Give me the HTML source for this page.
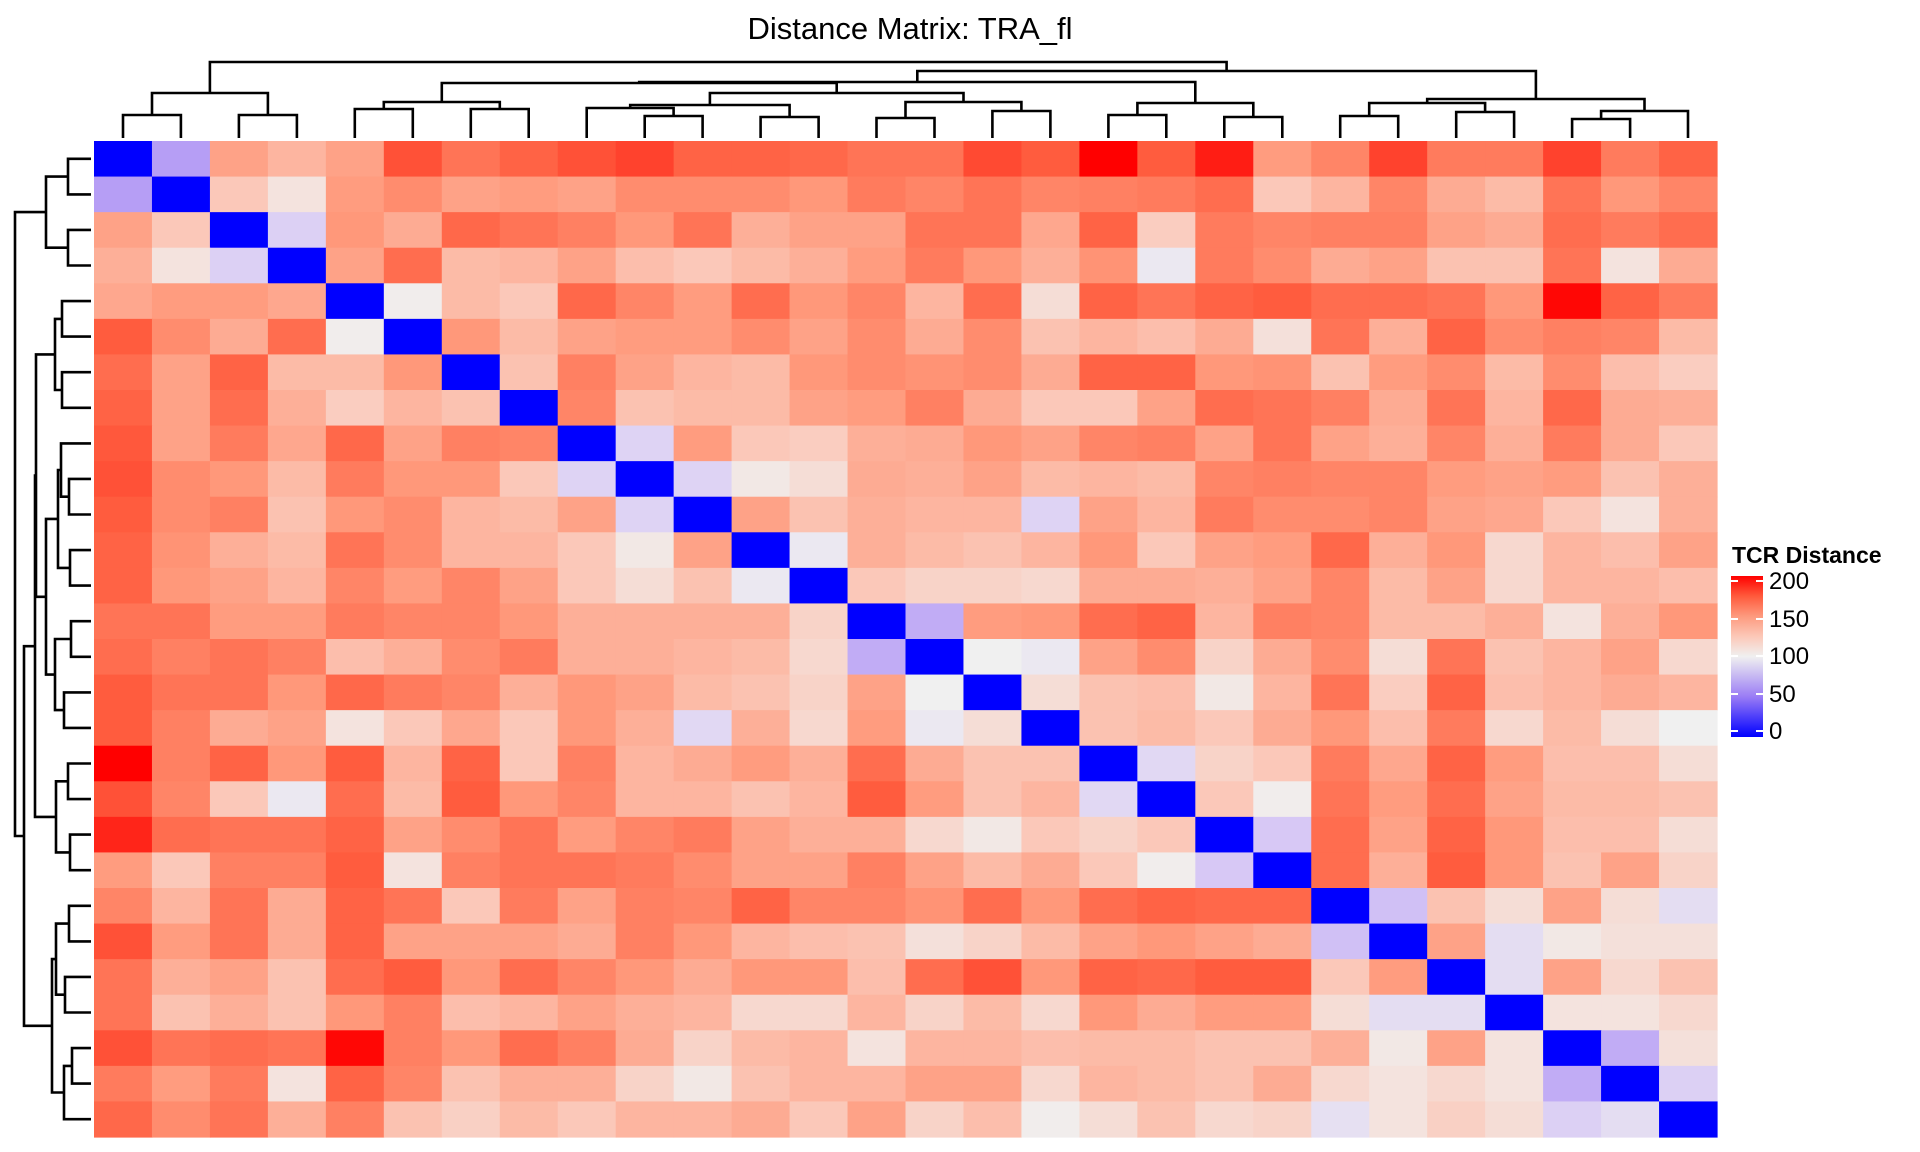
<!DOCTYPE html>
<html><head><meta charset="utf-8">
<style>
html,body{margin:0;padding:0;background:#fff;}
svg{display:block;}
text{font-family:"Liberation Sans",sans-serif;}
</style></head>
<body>
<svg id="s" width="1920" height="1152" xmlns="http://www.w3.org/2000/svg">
<text x="910" y="39" font-size="31" text-anchor="middle" fill="#000">Distance Matrix: TRA_fl</text>
<g id="cells"></g>
<g id="dend" stroke="#000" stroke-width="2.6" fill="none"></g>
<defs>
<linearGradient id="cb" x1="0" y1="1" x2="0" y2="0">
<stop offset="0" stop-color="#0000ff"/>
<stop offset="0.25" stop-color="#9a7cf5"/>
<stop offset="0.5" stop-color="#f0f0f0"/>
<stop offset="0.625" stop-color="#fcc8b8"/>
<stop offset="0.75" stop-color="#fd9a7e"/>
<stop offset="0.875" stop-color="#ff5a3c"/>
<stop offset="1" stop-color="#ff0000"/>
</linearGradient>
</defs>
<text x="1732" y="563" font-size="23" font-weight="bold" fill="#000">TCR Distance</text>
<rect x="1731" y="576" width="32" height="161" fill="url(#cb)"/>
<g stroke="#fff" stroke-width="2">
<line x1="1731" y1="581" x2="1738" y2="581"/><line x1="1756" y1="581" x2="1763" y2="581"/>
<line x1="1731" y1="619" x2="1738" y2="619"/><line x1="1756" y1="619" x2="1763" y2="619"/>
<line x1="1731" y1="656" x2="1738" y2="656"/><line x1="1756" y1="656" x2="1763" y2="656"/>
<line x1="1731" y1="694" x2="1738" y2="694"/><line x1="1756" y1="694" x2="1763" y2="694"/>
<line x1="1731" y1="731" x2="1738" y2="731"/><line x1="1756" y1="731" x2="1763" y2="731"/>
</g>
<g font-size="24" fill="#000">
<text x="1769" y="589">200</text>
<text x="1769" y="627">150</text>
<text x="1769" y="664">100</text>
<text x="1769" y="702">50</text>
<text x="1769" y="739">0</text>
</g>
</svg>
<script>
var M=[
[0,60,145,135,145,178,165,172,178,182,172,172,170,165,165,180,175,200,175,192,148,158,182,162,162,182,162,172],
[60,0,125,108,148,155,145,148,145,155,155,155,150,162,158,165,158,160,162,168,125,135,158,140,132,165,150,158],
[145,125,0,80,150,140,170,165,160,150,165,138,145,145,165,165,142,172,122,162,158,160,160,145,140,168,162,168],
[138,108,80,0,145,168,132,135,145,130,125,132,138,148,162,150,138,152,95,162,155,140,145,128,128,165,108,140],
[142,148,148,142,0,102,132,125,170,158,148,168,150,158,135,168,112,172,165,172,175,168,168,165,150,198,172,162],
[175,155,140,168,102,0,150,132,145,148,148,155,145,155,140,155,128,135,130,140,110,165,138,172,155,160,158,132],
[168,145,172,132,132,150,0,128,160,145,135,132,150,155,152,155,140,172,172,150,152,128,148,155,132,155,130,122],
[172,145,168,138,122,135,128,0,158,128,132,132,145,148,160,140,125,125,145,168,165,160,140,165,135,170,140,138],
[176,145,162,142,170,145,160,158,0,82,148,125,122,138,140,150,145,158,160,145,165,145,138,158,138,162,140,125],
[178,155,150,132,162,150,150,125,82,0,82,105,112,140,138,145,132,135,132,158,160,158,158,148,145,148,128,138],
[175,155,160,128,150,155,135,132,145,82,0,145,128,138,135,135,82,145,135,162,155,155,158,145,142,125,108,138],
[172,152,138,132,165,155,135,135,125,105,145,0,95,138,132,128,135,150,125,145,148,170,138,150,115,135,130,145],
[172,150,145,135,158,148,158,145,125,112,128,95,0,125,118,118,115,140,140,138,145,158,132,145,115,135,135,130],
[165,165,148,148,162,158,158,150,138,138,138,138,118,0,65,148,150,168,172,135,160,158,132,132,138,108,138,150],
[168,160,165,160,130,138,155,162,138,138,135,132,115,65,0,100,95,145,155,118,140,155,112,165,128,135,145,115],
[175,165,165,150,170,162,158,138,150,145,132,128,118,145,100,0,112,128,130,105,135,165,122,172,130,135,140,135],
[175,160,140,145,108,125,142,125,150,138,85,138,115,148,95,112,0,128,132,125,140,150,130,162,115,132,112,100],
[200,160,172,150,175,135,172,125,160,135,140,148,138,168,140,128,128,0,85,118,125,162,142,172,148,130,130,112],
[178,158,125,95,168,132,175,150,158,135,135,128,135,175,148,128,135,85,0,125,102,165,148,168,145,132,132,128],
[190,168,165,165,172,145,155,165,148,158,162,145,138,138,115,105,125,118,125,0,75,168,145,172,150,130,130,112],
[148,125,160,160,175,108,160,165,165,162,155,145,145,160,145,132,140,125,102,75,0,168,138,175,150,128,145,118],
[158,135,165,140,172,165,125,162,145,160,158,172,158,158,152,168,150,168,172,170,170,0,72,128,112,145,112,88],
[178,148,165,140,172,145,145,145,140,160,150,135,130,128,110,118,132,145,150,145,140,72,0,145,88,105,110,110],
[165,138,145,128,168,175,150,168,158,150,140,150,150,130,168,178,150,172,170,175,175,125,148,0,88,145,115,128],
[165,128,138,128,150,160,130,135,145,138,135,115,115,135,118,132,115,150,140,148,148,112,88,88,0,108,108,115],
[178,165,168,165,198,160,150,168,160,140,118,132,135,108,135,135,130,132,132,128,128,138,105,145,108,0,65,110],
[162,148,162,108,172,158,128,138,138,118,105,128,135,135,145,145,115,135,132,128,140,115,108,115,108,65,0,80],
[170,155,165,138,160,128,120,132,125,135,135,140,125,145,118,130,102,112,128,115,118,90,108,120,112,80,88,0]];
var stops=[[0,[0,0,255]],[25,[100,70,250]],[50,[160,130,245]],[75,[215,200,245]],[100,[240,240,240]],[125,[251,200,185]],[150,[255,152,122]],[175,[255,92,62]],[200,[255,0,0]]];
function col(v){for(var i=1;i<stops.length;i++){if(v<=stops[i][0]){var a=stops[i-1],b=stops[i],t=(v-a[0])/(b[0]-a[0]);return 'rgb('+[0,1,2].map(function(k){return Math.round(a[1][k]+(b[1][k]-a[1][k])*t)}).join(',')+')';}}return 'rgb(255,0,0)';}
var X0=94,Y0=141,CW=(1717-94)/28,CH=(1137-141)/28,h='';
for(var r=0;r<28;r++)for(var c=0;c<28;c++){h+='<rect x="'+(X0+c*CW).toFixed(2)+'" y="'+(Y0+r*CH).toFixed(2)+'" width="'+(CW+0.6).toFixed(2)+'" height="'+(CH+0.6).toFixed(2)+'" fill="'+col(M[r][c])+'"/>';}
document.getElementById('cells').innerHTML=h;
function L(i){return {leaf:i};}
function N(a,b,y){return {a:a,b:b,y:y};}
var A=N(N(L(0),L(1),115),N(L(2),L(3),115),93);
var B=N(N(L(4),L(5),109),N(L(6),L(7),109),102);
var C=N(N(N(L(8),N(L(9),L(10),116),108),N(L(11),L(12),117),105),N(N(L(13),L(14),118),N(L(15),L(16),111),102),93);
var D=N(N(L(17),L(18),115),N(L(19),L(20),117),103);
var E=N(N(N(L(21),L(22),116),N(L(23),L(24),112),103),N(N(L(25),L(26),119),L(27),111),99);
var root=N(N(N(B,C,83),D,82),E,71);root=N(A,root,62);
var LEAFY=138,d='';
function draw(n){if(n.leaf!==undefined)return {p:n.leaf,y:LEAFY};var a=draw(n.a),b=draw(n.b);
var xa=X0+(a.p+0.5)*CW,xb=X0+(b.p+0.5)*CW;
d+='M'+xa.toFixed(1)+' '+a.y+'V'+n.y+'H'+xb.toFixed(1)+'V'+b.y;
var ya=Y0+(a.p+0.5)*CH,yb=Y0+(b.p+0.5)*CH;
var fa=(a.y===LEAFY?91:a.y-47),fb=(b.y===LEAFY?91:b.y-47),fn=n.y-47;
d+='M'+fa+' '+ya.toFixed(1)+'H'+fn+'V'+yb.toFixed(1)+'H'+fb;
return {p:(a.p+b.p)/2,y:n.y};}
draw(root);
document.getElementById('dend').innerHTML='<path d="'+d+'"/>';
</script>
</body></html>
